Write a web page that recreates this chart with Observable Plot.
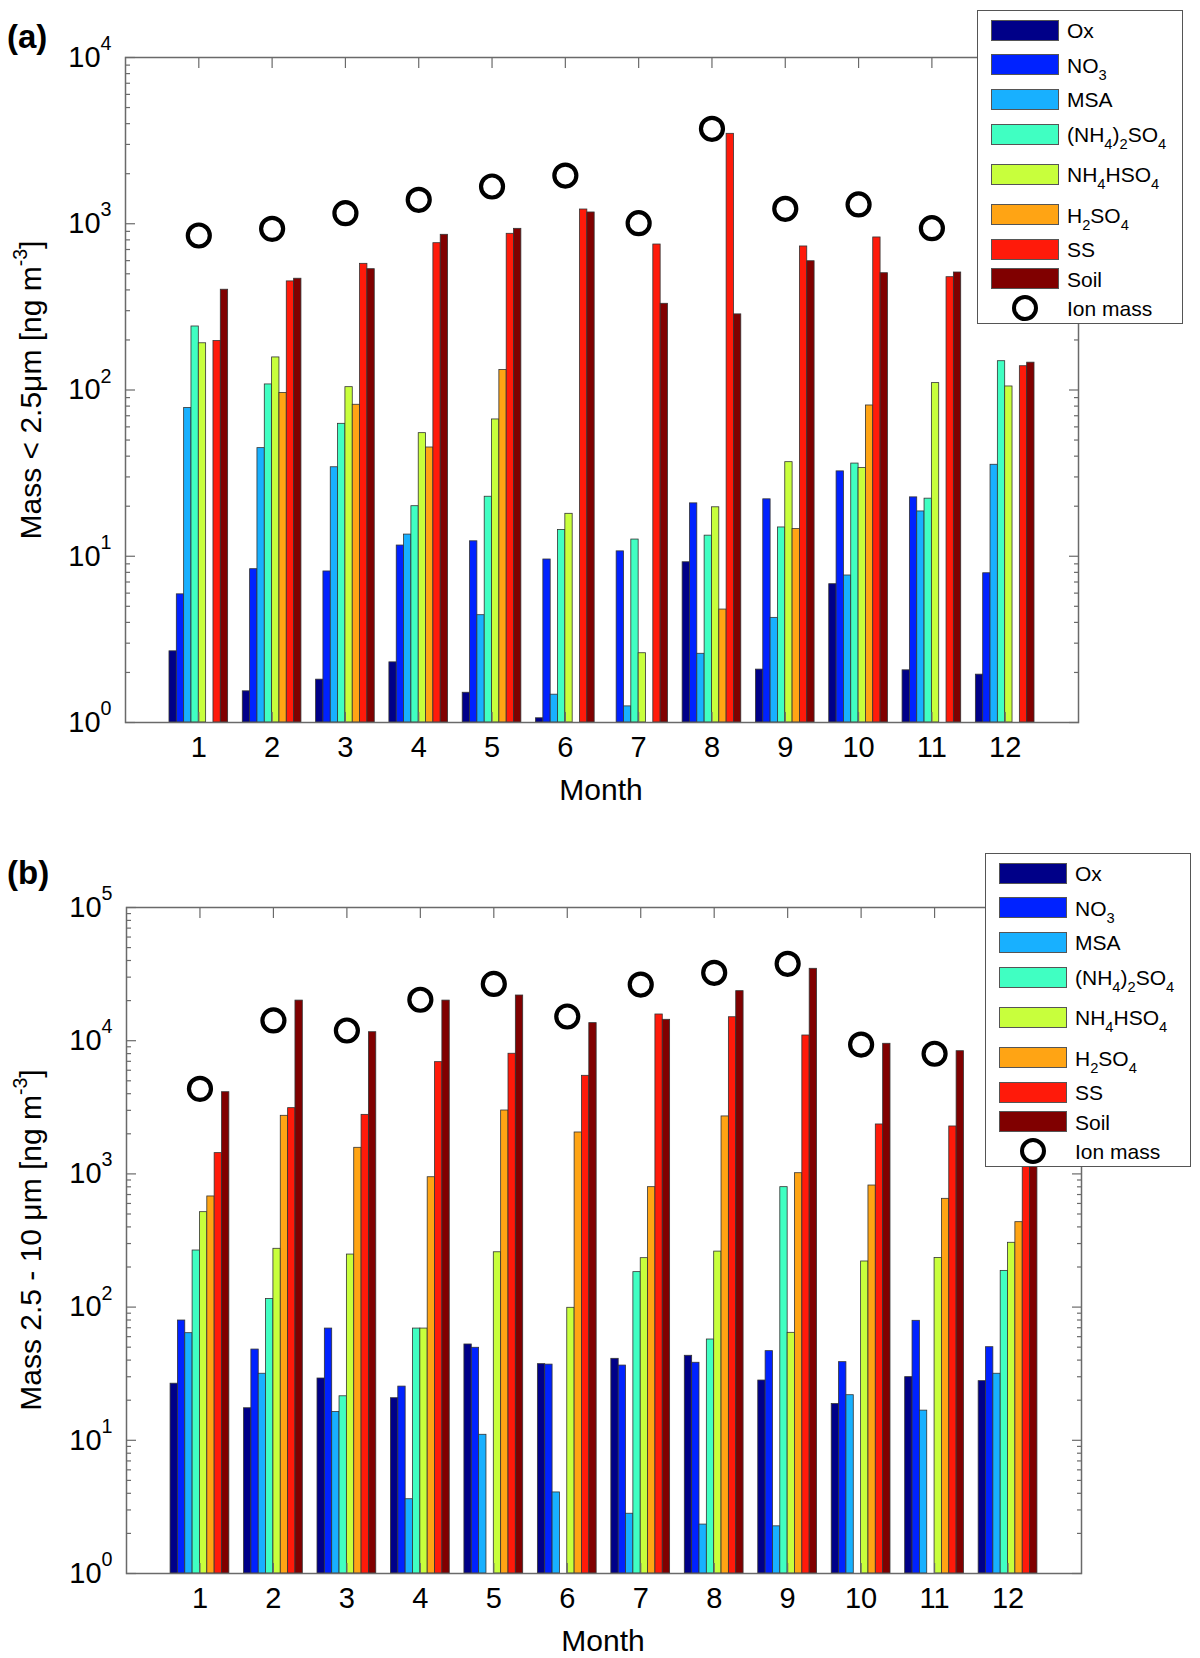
<!DOCTYPE html>
<html>
<head>
<meta charset="utf-8">
<script src="https://cdn.jsdelivr.net/npm/d3@7"></script>
<script src="https://cdn.jsdelivr.net/npm/@observablehq/plot@0.6"></script>
<style>
  html, body { margin: 0; padding: 0; background: #fff; }
  #wrap { position: relative; width: 1200px; height: 1658px; font-family: "Liberation Sans", Arial, sans-serif; color: #000; overflow: hidden; }
  .panel { position: absolute; left: 0; }
  #wrap svg g[aria-label="y-axis tick label"], #wrap svg g[aria-label="x-axis tick label"] { font-size: 29px; fill: #000; }
  .tag { position: absolute; font-weight: bold; font-size: 33px; line-height: 1; }
  .ylab { position: absolute; font-size: 30px; white-space: nowrap; transform: translate(-50%, -50%) rotate(-90deg); line-height: 1; }
  .xlab { position: absolute; font-size: 30px; transform: translate(-50%, -50%); line-height: 1; }
  .legend { position: absolute; background: #fff; border: 1.5px solid #555; box-sizing: border-box; z-index: 5; }
  .row { position: absolute; left: 0; height: 0; }
  .sw { position: absolute; width: 68px; height: 21px; box-sizing: border-box; border: 1.5px solid #555; top: -10.5px; }
  .ring { position: absolute; width: 26px; height: 26px; box-sizing: border-box; border: 4px solid #000; border-radius: 50%; top: -13px; }
  .lt { position: absolute; font-size: 21px; line-height: 1; top: -10px; white-space: nowrap; }
  .lt sub { font-size: 0.7em; vertical-align: -0.5em; line-height: 0; }
  sup { font-size: 0.65em; vertical-align: 0.7em; line-height: 0; }
</style>
</head>
<body>
<div id="wrap"></div>
<script>
// ---------------- data ----------------
const months = [1, 2, 3, 4, 5, 6, 7, 8, 9, 10, 11, 12];
const series = ["Ox", "NO3", "MSA", "(NH4)2SO4", "NH4HSO4", "H2SO4", "SS", "Soil"];
const colors = ["#000088", "#0022ff", "#18b0ff", "#40ffc2", "#c8ff3c", "#ffa414", "#ff1a0a", "#800000"];

// Panel (a): Mass < 2.5 um  [ng m-3]
const fineOx      = [2.68, 1.54, 1.81, 2.30, 1.51, 1.06, null, 9.2, 2.08, 6.79, 2.06, 1.94];
const fineNO3     = [5.9, 8.36, 8.1, 11.6, 12.3, 9.56, 10.7, 20.8, 22.0, 32.4, 22.6, 7.9];
const fineMSA     = [78, 44.7, 34.3, 13.5, 4.42, 1.47, 1.25, 2.59, 4.26, 7.66, 18.6, 35.5];
const fineAS      = [241, 108, 62.6, 20.0, 22.8, 14.4, 12.6, 13.3, 14.9, 36.1, 22.2, 149];
const fineAHS     = [191, 157, 104, 55, 66.5, 18.0, 2.61, 19.7, 36.8, 34.0, 110, 105];
const fineH2SO4   = [null, 96, 81.5, 45.1, 132, null, null, 4.78, 14.6, 80.7, null, null];
const fineSS      = [197, 450, 574, 764, 870, 1218, 750, 3475, 730, 827, 477, 139];
const fineSoil    = [401, 467, 533, 858, 932, 1169, 330, 285, 595, 504, 509, 146];
const fineIon     = [850, 932, 1158, 1393, 1675, 1950, 1008, 3724, 1230, 1306, 940, 700];

// Panel (b): Mass 2.5 - 10 um [ng m-3]
const coarseOx    = [26.6, 17.4, 29.1, 20.7, 52.4, 37.3, 40.9, 43.1, 28.1, 18.7, 29.8, 27.8];
const coarseNO3   = [79.3, 48, 69, 25.3, 49.5, 37, 36.4, 38.2, 46.7, 38.6, 78.9, 50.0];
const coarseMSA   = [63.7, 31.6, 16.3, 3.61, 11.0, 4.06, 2.81, 2.33, 2.26, 21.8, 16.7, 31.6];
const coarseAS    = [266, 115, 21.4, 69, null, null, 183, 57.1, 795, null, null, 187];
const coarseAHS   = [516, 274, 248, 69, 258, 98.8, 233, 261, 64.1, 220, 234, 304];
const coarseH2SO4 = [677, 2730, 1570, 944, 2992, 2046, 795, 2700, 1012, 818, 650, 434];
const coarseSS    = [1432, 3116, 2775, 6900, 7980, 5450, 15730, 15000, 10940, 2350, 2270, 1600];
const coarseSoil  = [4105, 20000, 11580, 20000, 21840, 13550, 14350, 23550, 34660, 9480, 8340, 3000];
const coarseIon   = [4350, 14190, 11930, 20300, 26700, 15200, 26400, 32340, 37780, 9360, 7980, 6000];

const decadesA = [1, 10, 100, 1000, 10000];
const decadesB = [1, 10, 100, 1000, 10000, 100000];

// ---------------- helpers ----------------
const NS = "http://www.w3.org/2000/svg";
const FONT = '"Liberation Sans", Arial, sans-serif';
const AXIS = "#6a6a6a";

function buildRows(cols) {
  const rows = [];
  cols.forEach((vals, si) => {
    vals.forEach((v, mi) => {
      if (v != null) rows.push({month: months[mi], s: series[si], si, v});
    });
  });
  return rows;
}
function minorTicks(decades) {
  const out = [];
  decades.slice(0, -1).forEach(d => { for (let k = 2; k <= 9; k++) out.push(d * k); });
  return out;
}
function supTicks(svg) {
  svg.querySelectorAll('g[aria-label="y-axis tick label"] text').forEach(t => {
    const e = t.textContent;
    t.textContent = "";
    const b = document.createElementNS(NS, "tspan"); b.textContent = "10";
    const s = document.createElementNS(NS, "tspan");
    s.setAttribute("dy", "-0.85em"); s.setAttribute("font-size", "0.68em"); s.textContent = e;
    t.append(b, s);
  });
}

function panel({cols, ion, decades, top, height, mt, mb, ml, mr}) {
  const rows = buildRows(cols);
  const ionRows = months.map((m, i) => ({month: m, v: ion[i]}));
  const minor = minorTicks(decades);
  const svg = Plot.plot({
    width: 1200, height,
    marginTop: mt, marginBottom: mb, marginLeft: ml, marginRight: mr,
    style: {fontFamily: FONT, background: "transparent", color: "#000"},
    x: {type: "linear", domain: [0, 13]},
    y: {type: "log", domain: [decades[0], decades[decades.length - 1]]},
    color: {domain: series, range: colors},
    marks: [
      Plot.rectY(rows, {
        x1: d => d.month + (d.si - 4) * 0.1,
        x2: d => d.month + (d.si - 3) * 0.1,
        y1: () => decades[0], y2: "v",
        fill: "s", stroke: "#333", strokeWidth: 0.8
      }),
      Plot.dot(ionRows, {x: "month", y: "v", r: 11, stroke: "#000", strokeWidth: 4.2, fill: "none"}),
      Plot.frame({stroke: AXIS, strokeWidth: 1.5}),
      // inward tick marks
      Plot.axisY({anchor: "left", ticks: decades, tickSize: -10, fill: "none", stroke: AXIS, strokeWidth: 1.2, label: null}),
      Plot.axisY({anchor: "left", ticks: minor, tickSize: -5, fill: "none", stroke: AXIS, strokeWidth: 1.2, label: null}),
      Plot.axisY({anchor: "right", ticks: decades, tickSize: -10, fill: "none", stroke: AXIS, strokeWidth: 1.2, label: null}),
      Plot.axisY({anchor: "right", ticks: minor, tickSize: -5, fill: "none", stroke: AXIS, strokeWidth: 1.2, label: null}),
      Plot.axisX({anchor: "bottom", ticks: months, tickSize: -10, fill: "none", stroke: AXIS, strokeWidth: 1.2, label: null}),
      Plot.axisX({anchor: "top", ticks: months, tickSize: -10, fill: "none", stroke: AXIS, strokeWidth: 1.2, label: null}),
      // tick labels
      Plot.axisY({anchor: "left", ticks: decades, tickSize: 0, tickPadding: 14, fontSize: 29,
                  tickFormat: d => String(Math.round(Math.log10(d))), label: null}),
      Plot.axisX({anchor: "bottom", ticks: months, tickSize: 0, tickPadding: 14, fontSize: 29,
                  tickFormat: d => String(d), label: null})
    ]
  });
  supTicks(svg);
  const div = document.createElement("div");
  div.className = "panel";
  div.style.top = top + "px";
  div.append(svg);
  return div;
}

function subHTML(name) {
  return name.replace(/(\d)/g, "<sub>$1</sub>");
}
function legend(left, top) {
  const L = document.createElement("div");
  L.className = "legend";
  Object.assign(L.style, {left: left + "px", top: top + "px", width: "206px", height: "314px"});
  const offsets = [19, 53.5, 88, 123, 163, 203.5, 238, 267.5, 296.5];
  series.forEach((s, i) => {
    const r = document.createElement("div");
    r.className = "row"; r.style.top = offsets[i] + "px";
    r.innerHTML = `<div class="sw" style="left:13px;background:${colors[i]}"></div><div class="lt" style="left:89px">${subHTML(s)}</div>`;
    L.append(r);
  });
  const r = document.createElement("div");
  r.className = "row"; r.style.top = offsets[8] + "px";
  r.innerHTML = `<div class="ring" style="left:34px"></div><div class="lt" style="left:89px">Ion mass</div>`;
  L.append(r);
  return L;
}
function addText(cls, x, y, html) {
  const d = document.createElement("div");
  d.className = cls;
  d.style.left = x + "px"; d.style.top = y + "px";
  d.innerHTML = html;
  document.getElementById("wrap").append(d);
}

const wrap = document.getElementById("wrap");
wrap.append(panel({
  cols: [fineOx, fineNO3, fineMSA, fineAS, fineAHS, fineH2SO4, fineSS, fineSoil],
  ion: fineIon, decades: decadesA, top: 0, height: 820, mt: 57, mb: 98, ml: 125, mr: 122
}));
wrap.append(panel({
  cols: [coarseOx, coarseNO3, coarseMSA, coarseAS, coarseAHS, coarseH2SO4, coarseSS, coarseSoil],
  ion: coarseIon, decades: decadesB, top: 820, height: 838, mt: 87, mb: 85, ml: 126, mr: 119
}));
wrap.append(legend(977, 10));
wrap.append(legend(985, 853));

addText("tag", 7, 20, "(a)");
addText("tag", 7, 856, "(b)");
addText("ylab", 31, 390, "Mass &lt; 2.5μm [ng m<sup>-3</sup>]");
addText("ylab", 31, 1240, "Mass 2.5 - 10 μm [ng m<sup>-3</sup>]");
addText("xlab", 601, 790, "Month");
addText("xlab", 603, 1641, "Month");
</script>
</body>
</html>
